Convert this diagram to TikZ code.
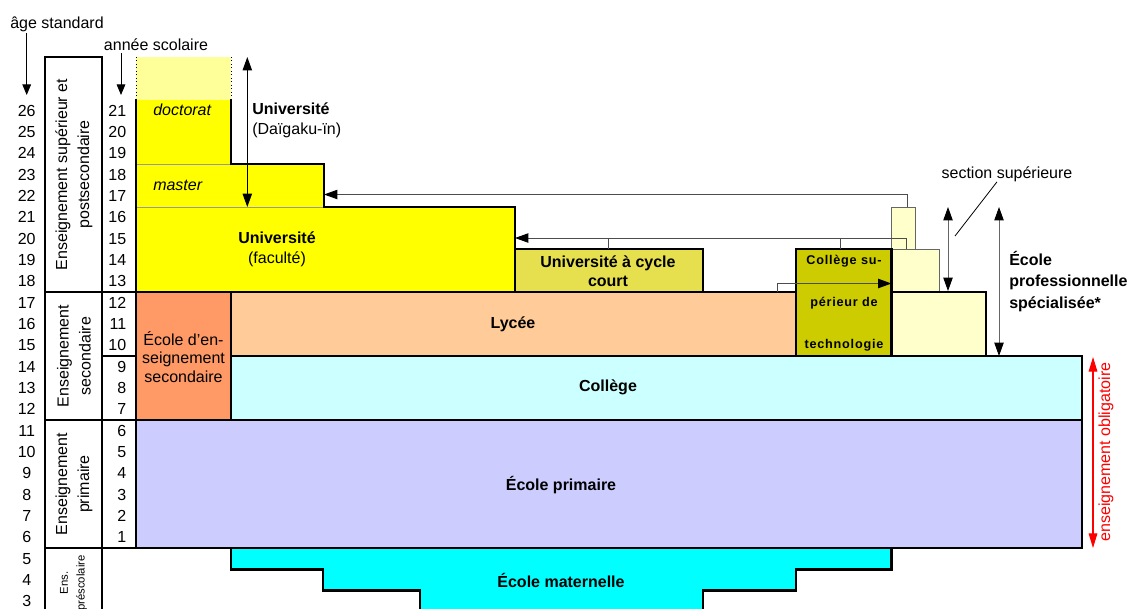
\documentclass[tikz,border=0pt]{standalone}
\usepackage{fontspec}
\setmainfont{Liberation Sans}
\usetikzlibrary{arrows.meta}
\definecolor{lyellow}{HTML}{FFFF99}
\definecolor{uyellow}{HTML}{FFFF00}
\definecolor{ucourt}{HTML}{E6E04F}
\definecolor{csup}{HTML}{CCCC00}
\definecolor{vocat}{HTML}{FFFFCC}
\definecolor{lycee}{HTML}{FFCC99}
\definecolor{eesec}{HTML}{FF9966}
\definecolor{college}{HTML}{CCFFFF}
\definecolor{primaire}{HTML}{CCCCFF}
\definecolor{maternelle}{HTML}{00FFFF}
\definecolor{oblig}{HTML}{FF0000}
\begin{document}
\begin{tikzpicture}[x=0.75pt,y=-0.75pt,
  thickline/.style={line width=2pt,line join=miter},
  thinline/.style={line width=0.7pt,draw=black!70},
  tip/.style={-{Triangle[length=10pt,width=7pt,color=black]}},
  dtip/.style={{Triangle[length=10pt,width=7pt,color=black]}-{Triangle[length=10pt,width=7pt,color=black]}},
  stip/.style={-{Triangle[length=8pt,width=6.5pt,color=black]}},
  lbl/.style={font=\fontsize{12}{15}\selectfont, inner sep=0pt, align=center},
  blbl/.style={font=\fontsize{12}{15}\selectfont\bfseries, inner sep=0pt, align=center},
  rlbl/.style={font=\fontsize{12}{16.5}\selectfont, inner sep=0pt, align=center, rotate=90},
  num/.style={font=\fontsize{12}{14}\selectfont, inner sep=0pt},
]
\useasboundingbox (0,0) rectangle (1131,608);

% ---- headings
\node[lbl] (agestd) at (57,24) {âge standard};
\coordinate (ageTop) at (26.7,33);
\coordinate (ageEnd) at (26.7,95);
\draw[line width=0.7pt,stip] (ageTop) -- (ageEnd);
\node[lbl] (annee) at (156,45) {année scolaire};
\coordinate (anTop) at (121,53);
\coordinate (anEnd) at (121,95);
\draw[line width=0.7pt,stip] (anTop) -- (anEnd);

% ---- ages and grades
\foreach \a in {3,...,26} \node[num] (age\a) at (26.7,{537.33-(\a-6)*21.333}) {\a};
\foreach \g in {1,...,21} \node[num,anchor=east] (gr\g) at (126.5,{537.33-(\g-1)*21.333}) {\g};

% ---- higher education blocks
\fill[lyellow] (136,57) rectangle (231,100);
\draw[dotted,line width=0.6pt] (136,57) -- (136,100) (231,57) -- (231,100);
\fill[uyellow] (136,100) -- (136,292) -- (515,292) -- (515,207) -- (324,207) -- (324,164) -- (231,164) -- (231,100) -- cycle;
\draw[black!40,line width=0.7pt] (136,164) -- (231,164) (136,207) -- (324,207);
\draw[thickline] (136,99) -- (136,292) -- (515,292) -- (515,207) -- (324,207) -- (324,164) -- (231,164) -- (231,99);
\node[lbl,font=\fontsize{12}{15}\selectfont\itshape,anchor=west] (doct) at (153,110) {doctorat};
\node[lbl,font=\fontsize{12}{15}\selectfont\itshape,anchor=west] (mast) at (153,185) {master};
\node[lbl] (ufac) at (277,249) {\textbf{Université}\\(faculté)};

\draw[thickline,fill=ucourt] (515,249) rectangle (703,292);
\node[blbl,font=\fontsize{12}{14.5}\selectfont\bfseries] (ucourttxt) at (608,271) {Université à cycle\\court};

% ---- vocational school
\draw[black!60,line width=0.7pt,fill=vocat] (891.5,207) rectangle (915,249);
\draw[black!60,line width=0.7pt,fill=vocat] (891.5,249) rectangle (939,292);
\draw[black,line width=0.9pt,fill=vocat] (891.5,292) rectangle (986,356);

% ---- secondary
\draw[thickline,fill=eesec] (136,292) rectangle (231,420);
\node[lbl,font=\fontsize{12}{14}\selectfont] (eesectxt) at (183.5,357) {École d’en-\\seignement\\secondaire};
\draw[thickline,fill=lycee] (231,292) rectangle (796,356);
\node[blbl] (lyceetxt) at (513,324) {Lycée};
\draw[thickline,fill=csup] (796,249) rectangle (891.5,356);
\node[inner sep=0pt,align=center,font=\fontsize{9.5}{31.5}\selectfont\bfseries\addfontfeature{LetterSpace=6}] (csuptxt) at (844,303) {Collège su-\\périeur de\\technologie};
\draw[thickline,fill=college] (231,356) rectangle (1082,420);
\node[blbl] (collegetxt) at (608,387) {Collège};

% ---- primary
\draw[thickline,fill=primaire] (136,420) rectangle (1082,548);
\node[blbl] (primtxt) at (561,485) {École primaire};

% ---- preschool
\fill[maternelle] (231,548) -- (891.5,548) -- (891.5,569.3) -- (796,569.3) -- (796,590.7) -- (703,590.7) -- (703,615) -- (420,615) -- (420,590.7) -- (323,590.7) -- (323,569.3) -- (231,569.3) -- cycle;
\draw[thickline] (420,615) -- (420,590.7) -- (323,590.7) -- (323,569.3) -- (231,569.3) -- (231,548) -- (891.5,548) -- (891.5,569.3) -- (796,569.3) -- (796,590.7) -- (703,590.7) -- (703,615);
\node[blbl] (mattxt) at (561,580) {École maternelle};

% ---- left table
\draw[thickline] (45,615) -- (45,57) -- (102,57) -- (102,615);
\draw[thickline] (45,292) -- (136,292) (45,420) -- (136,420) (45,548) -- (136,548) (102,356) -- (136,356);
\node[rlbl] (lsup) at (74,174.5) {Enseignement supérieur et\\postsecondaire};
\node[rlbl] (lsec) at (74,356) {Enseignement\\secondaire};
\node[rlbl] (lprim) at (74,484) {Enseignement\\primaire};
\node[rotate=90,inner sep=0pt,align=center,font=\fontsize{8.5}{12.5}\selectfont] (lpre) at (73.5,583) {Ens.\\préscolaire};

% ---- connectors
\coordinate (vtop) at (907.5,207);
\coordinate (mstep) at (324,194.5);
\draw[thinline,tip] (vtop) |- (mstep);
\coordinate (vmid) at (906,249);
\coordinate (ustep) at (515,238);
\draw[thinline,tip] (vmid) |- (ustep);
\coordinate (csuptop) at (840,249);
\coordinate (ucourttop) at (608,249);
\draw[thinline] (csuptop) -- (csuptop |- ustep) (ucourttop) -- (ucourttop |- ustep);
\coordinate (lyctop) at (777,292);
\coordinate (vleft) at (891.5,283.5);
\draw[thinline,tip] (lyctop) |- (vleft);

% ---- dimension arrows
\coordinate (uA) at (247.3,57);
\coordinate (uB) at (247.3,207);
\draw[line width=0.7pt,dtip] (uA) -- (uB);
\node[lbl,anchor=west,align=left] (dgk) at (252,120) {\textbf{Université}\\(Daïgaku-ïn)};
\coordinate (sA) at (948,207);
\coordinate (sB) at (948,291);
\draw[black!60,line width=0.7pt,dtip] (sA) -- (sB);
\coordinate (pA) at (999,207);
\coordinate (pB) at (999,356);
\draw[black!60,line width=0.7pt,dtip] (pA) -- (pB);
\node[lbl] (sectxt) at (1007,174) {section supérieure};
\coordinate (secpt) at (955,236);
\draw[line width=0.6pt] (secpt) -- (sectxt.south -| 997,0);
\node[blbl,anchor=west,align=left,font=\fontsize{12}{16}\selectfont\bfseries] (eps) at (1009,281.5) {École\\professionnelle\\spécialisée*};

% ---- compulsory
\coordinate (oA) at (1093,357);
\coordinate (oB) at (1093,548);
\draw[oblig,line width=0.8pt,{Triangle[length=11pt,width=6.5pt]}-{Triangle[length=11pt,width=6.5pt]}] (oA) -- (oB);
\node[rlbl,text=oblig] (obltxt) at (1106,452) {enseignement obligatoire};
\end{tikzpicture}
\end{document}
